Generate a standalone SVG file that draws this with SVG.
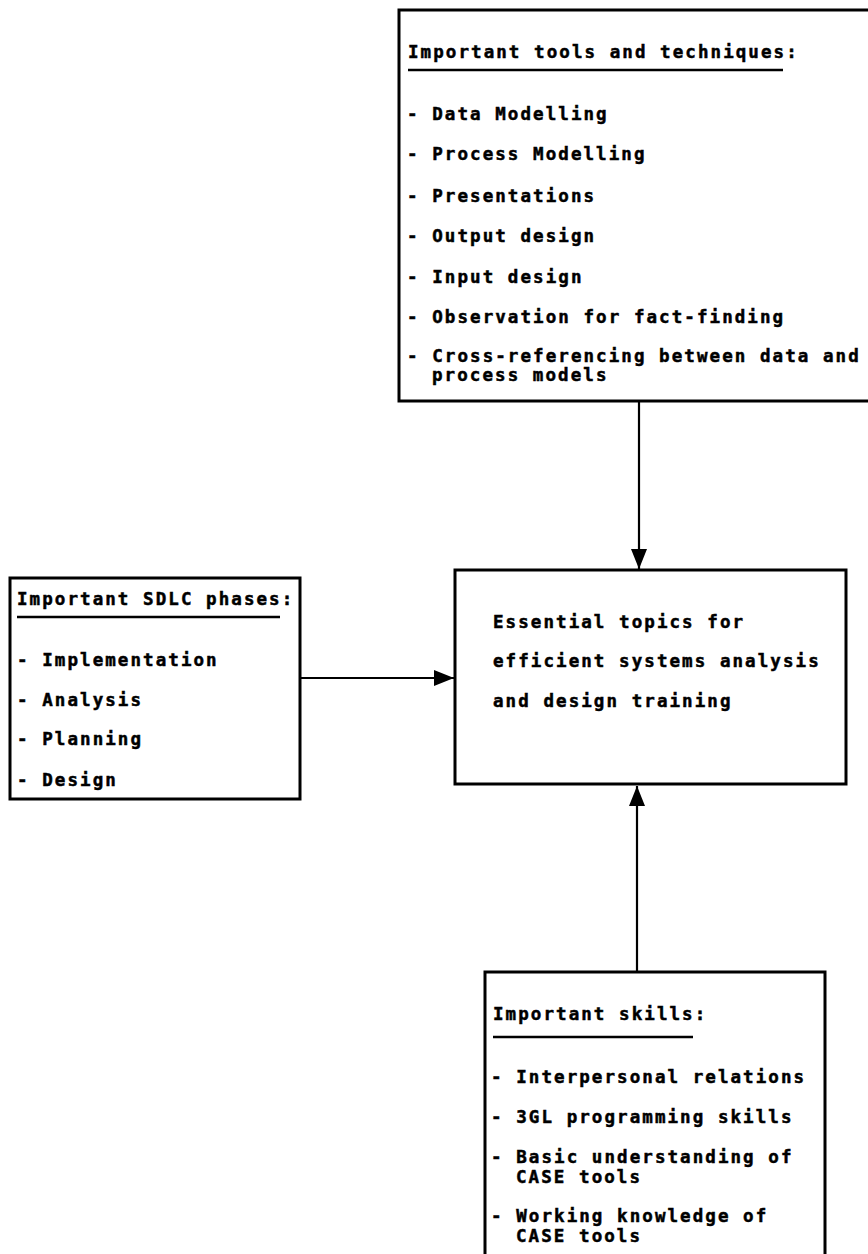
<svg xmlns="http://www.w3.org/2000/svg" width="868" height="1254" viewBox="0 0 868 1254">
  <style>
    .box { fill: none; stroke: #000; stroke-width: 3; }
    .rule { stroke: #000; stroke-width: 2.5; }
    .conn { fill: none; stroke: #000; stroke-width: 2.2; }
    text { font-family: "DejaVu Sans Mono", "Liberation Mono", monospace; font-weight: bold; font-size: 17.5px; letter-spacing: 2.07px; fill: #000; stroke: #000; stroke-width: 0.5px; }
  </style>
  <defs>
    <marker id="arrow" viewBox="0 0 20 16" refX="20" refY="8" markerWidth="20" markerHeight="16" markerUnits="userSpaceOnUse" orient="auto">
      <path d="M0,0 L20,8 L0,16 Z" fill="#000"/>
    </marker>
  </defs>
  <rect width="868" height="1254" fill="#fff"/>

  <!-- connectors -->
  <g id="connectors">
    <line class="conn" x1="639" y1="401" x2="639" y2="569" marker-end="url(#arrow)"/>
    <line class="conn" x1="300" y1="678" x2="454" y2="678" marker-end="url(#arrow)"/>
    <line class="conn" x1="637" y1="972" x2="637" y2="786" marker-end="url(#arrow)"/>
  </g>

  <!-- tools and techniques -->
  <g id="tools">
    <rect class="box" x="399" y="10" width="480" height="391"/>
    <text x="408" y="58">Important tools and techniques:</text>
    <line class="rule" x1="408" y1="70" x2="783" y2="70"/>
    <text x="407" y="120">- Data Modelling</text>
    <text x="407" y="160">- Process Modelling</text>
    <text x="407" y="202">- Presentations</text>
    <text x="407" y="242">- Output design</text>
    <text x="407" y="283">- Input design</text>
    <text x="407" y="323">- Observation for fact-finding</text>
    <text x="407" y="362">- Cross-referencing between data and</text>
    <text x="432" y="381">process models</text>
  </g>

  <!-- SDLC phases -->
  <g id="sdlc">
    <rect class="box" x="10" y="578" width="290" height="221"/>
    <text x="17" y="605">Important SDLC phases:</text>
    <line class="rule" x1="17" y1="617" x2="280" y2="617"/>
    <text x="17" y="666">- Implementation</text>
    <text x="17" y="706">- Analysis</text>
    <text x="17" y="745">- Planning</text>
    <text x="17" y="786">- Design</text>
  </g>

  <!-- central topic -->
  <g id="topics">
    <rect class="box" x="455" y="570" width="391" height="214"/>
    <text x="493" y="628">Essential topics for</text>
    <text x="493" y="667">efficient systems analysis</text>
    <text x="493" y="707">and design training</text>
  </g>

  <!-- skills -->
  <g id="skills">
    <rect class="box" x="485" y="972" width="340" height="300"/>
    <text x="493" y="1020">Important skills:</text>
    <line class="rule" x1="493" y1="1037" x2="693" y2="1037"/>
    <text x="491" y="1083">- Interpersonal relations</text>
    <text x="491" y="1123">- 3GL programming skills</text>
    <text x="491" y="1163">- Basic understanding of</text>
    <text x="516" y="1183">CASE tools</text>
    <text x="491" y="1222">- Working knowledge of</text>
    <text x="516" y="1242">CASE tools</text>
  </g>
</svg>
